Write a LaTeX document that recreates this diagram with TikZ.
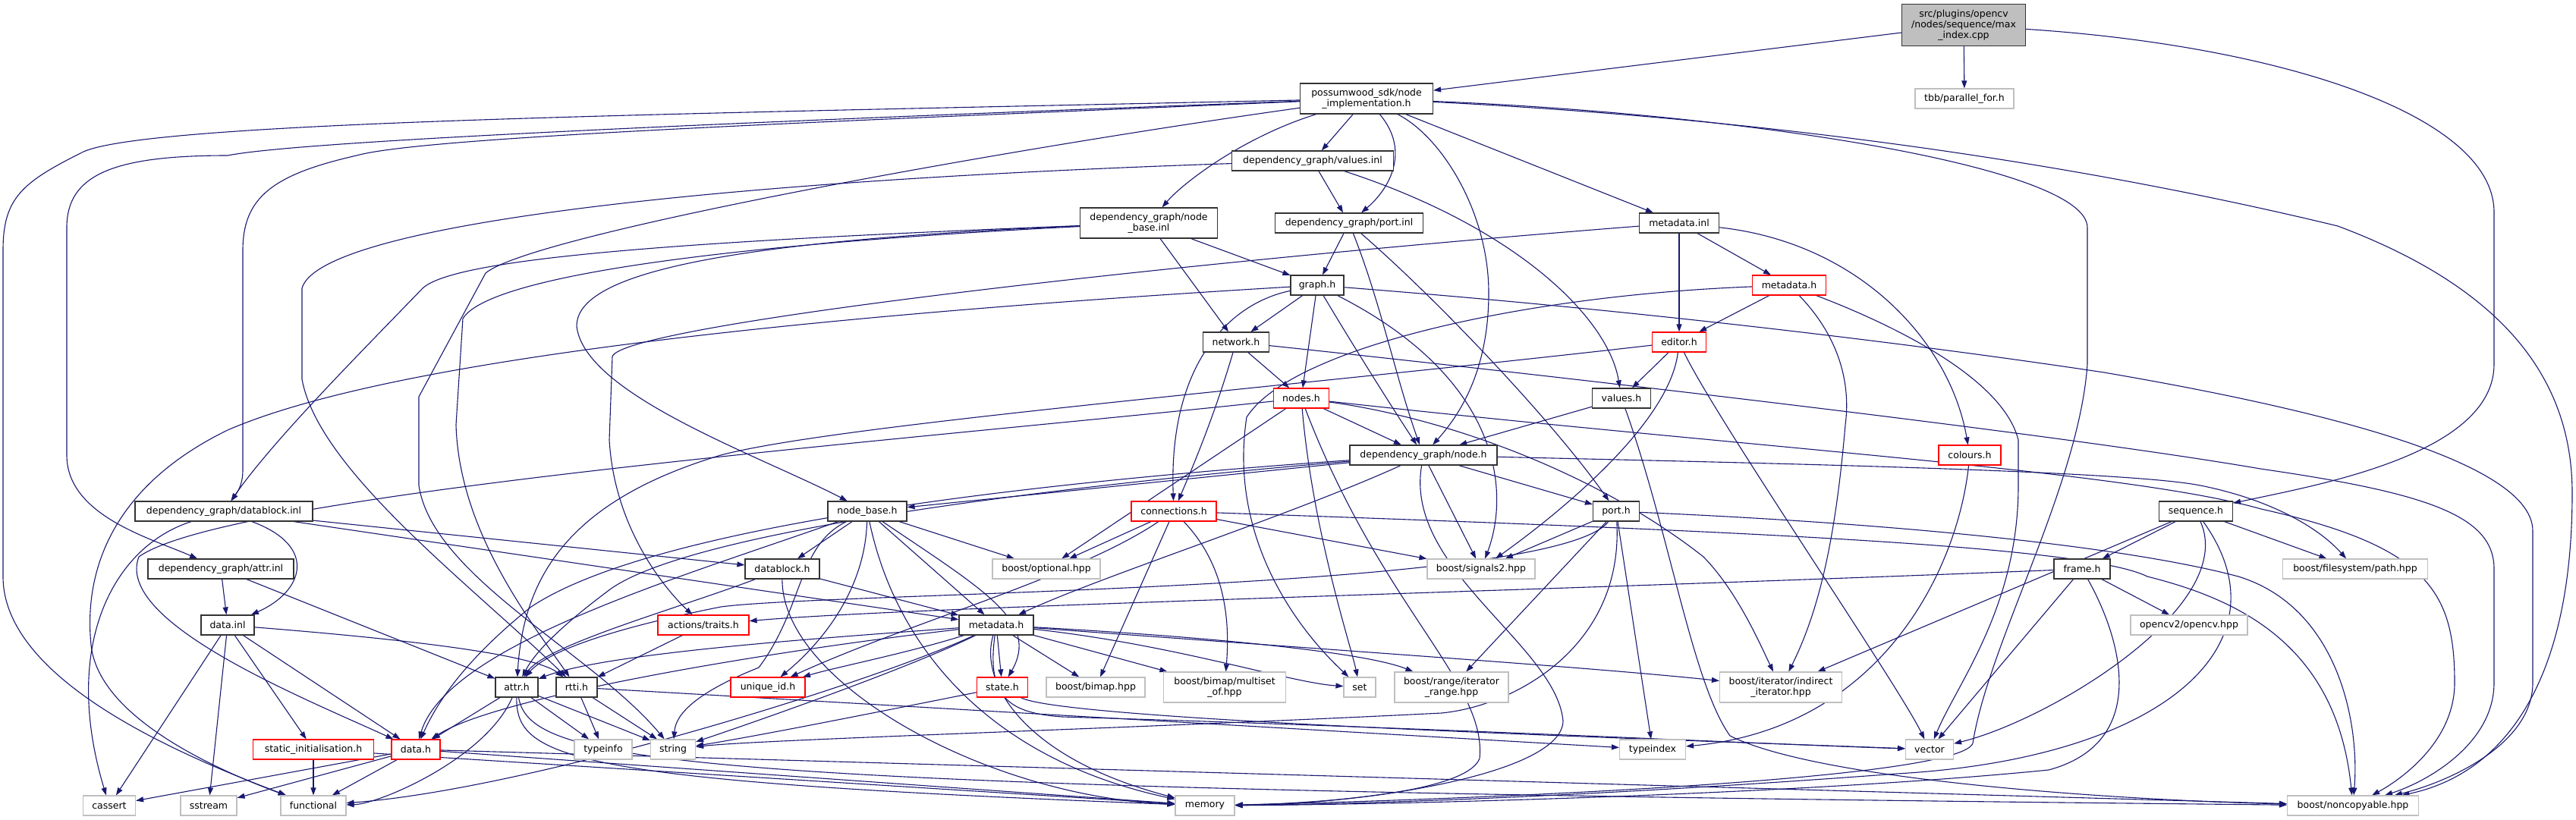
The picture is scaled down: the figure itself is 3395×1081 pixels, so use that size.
\documentclass[tikz,border=0pt]{standalone}
\usepackage{fontspec}
\setmainfont{DejaVu Sans}
\usetikzlibrary{arrows.meta}
\pgfdeclarelayer{bg}
\pgfsetlayers{bg,main}
\definecolor{edgec}{HTML}{191970}
\definecolor{extc}{HTML}{BFBFBF}
\begin{document}
\begin{tikzpicture}[x=1pt,y=-1pt,
  base/.style={rectangle,inner sep=0pt,fill=white,line width=1.2pt,align=center,font=\fontsize{12.5}{14}\selectfont},
  blk/.style={base,draw=black!80},
  redb/.style={base,draw=red},
  ext/.style={base,draw=extc},
  rootb/.style={base,draw=black!80,fill=extc},
  e/.style={draw=edgec,line width=1.1pt,-{Triangle[length=10pt,width=7pt]},fill=none}]
\useasboundingbox (0,0) rectangle (3395,1081);
\newcommand\bx[7]{\node[#1,minimum width=#5pt,minimum height=#6pt] (#2) at (#3,#4) {#7};}
% nodes
\bx{rootb}{root}{2588}{33}{163}{55}{src/plugins/opencv\\/nodes/sequence/max\\\_index.cpp}
\bx{ext}{tbb}{2589}{130}{130}{26}{tbb/parallel\_for.h}
\bx{blk}{impl}{1801}{130}{175}{40}{possumwood\_sdk/node\\\_implementation.h}
\bx{blk}{valinl}{1730}{212}{213}{26}{dependency\_graph/values.inl}
\bx{blk}{nbinl}{1514}{294}{181}{40}{dependency\_graph/node\\\_base.inl}
\bx{blk}{portinl}{1778}{294}{195}{26}{dependency\_graph/port.inl}
\bx{blk}{mdinl}{2213}{294}{105}{26}{metadata.inl}
\bx{blk}{graph}{1736}{376}{70}{26}{graph.h}
\bx{redb}{mdred}{2358}{376}{97}{26}{metadata.h}
\bx{blk}{network}{1629}{451}{87}{26}{network.h}
\bx{redb}{editor}{2213}{451}{71}{26}{editor.h}
\bx{redb}{nodes}{1715}{525}{73}{26}{nodes.h}
\bx{blk}{values}{2137}{525}{77}{26}{values.h}
\bx{blk}{node}{1876}{600}{194}{26}{dependency\_graph/node.h}
\bx{redb}{colours}{2596}{600}{82}{26}{colours.h}
\bx{blk}{dbinl}{295}{674}{234}{26}{dependency\_graph/datablock.inl}
\bx{blk}{nodebase}{1143}{674}{104}{26}{node\_base.h}
\bx{redb}{conn}{1547}{674}{112}{26}{connections.h}
\bx{blk}{port}{2130}{674}{61}{26}{port.h}
\bx{blk}{seq}{2894}{674}{97}{26}{sequence.h}
\bx{blk}{attrinl}{291}{750}{192}{26}{dependency\_graph/attr.inl}
\bx{blk}{dbh}{1031}{750}{98}{26}{datablock.h}
\bx{ext}{optional}{1379}{750}{142}{26}{boost/optional.hpp}
\bx{ext}{signals}{1952}{750}{142}{26}{boost/signals2.hpp}
\bx{blk}{frame}{2744}{750}{74}{26}{frame.h}
\bx{ext}{fs}{3104}{750}{191}{26}{boost/filesystem/path.hpp}
\bx{blk}{datainl}{300}{824}{70}{26}{data.inl}
\bx{redb}{traits}{927}{824}{120}{26}{actions/traits.h}
\bx{blk}{mdblk}{1313}{824}{98}{26}{metadata.h}
\bx{ext}{opencv}{2885}{824}{154}{26}{opencv2/opencv.hpp}
\bx{blk}{attrh}{681}{906}{56}{26}{attr.h}
\bx{blk}{rtti}{760}{906}{54}{26}{rtti.h}
\bx{redb}{uid}{1012}{906}{98}{26}{unique\_id.h}
\bx{redb}{state}{1321}{906}{67}{26}{state.h}
\bx{ext}{bimap}{1444}{906}{130}{26}{boost/bimap.hpp}
\bx{ext}{multiset}{1614}{906}{161}{40}{boost/bimap/multiset\\\_of.hpp}
\bx{ext}{set}{1792}{906}{42}{26}{set}
\bx{ext}{itrange}{1913}{906}{150}{40}{boost/range/iterator\\\_range.hpp}
\bx{ext}{indirect}{2347}{906}{161}{40}{boost/iterator/indirect\\\_iterator.hpp}
\bx{redb}{static}{413}{988}{159}{26}{static\_initialisation.h}
\bx{redb}{datah}{548}{988}{64}{26}{data.h}
\bx{ext}{typeinfo}{795}{988}{76}{26}{typeinfo}
\bx{ext}{string}{887}{988}{59}{26}{string}
\bx{ext}{typeindex}{2178}{988}{87}{26}{typeindex}
\bx{ext}{vector}{2543}{988}{63}{26}{vector}
\bx{ext}{cassert}{144}{1062}{69}{26}{cassert}
\bx{ext}{sstream}{275}{1062}{74}{26}{sstream}
\bx{ext}{functional}{413}{1062}{86}{26}{functional}
\bx{ext}{memory}{1588}{1062}{78}{26}{memory}
\bx{ext}{noncopy}{3101}{1062}{173}{26}{boost/noncopyable.hpp}
% edges
\begin{pgfonlayer}{bg}
\draw[e] (root) -- (impl);
\draw[e] (root) -- (tbb);
\draw[e] (root) .. controls (3000,60) and (3287,150) .. (3287,280) -- (3287,480) .. controls (3287,600) and (3050,640) .. (seq);
\draw[e] (impl) .. controls (900,150) and (200,160) .. (110,200) .. controls (30,240) and (4,260) .. (4,330) -- (4,760) .. controls (4,900) and (250,1000) .. (functional);
\draw[e] (impl) .. controls (1000,160) and (400,185) .. (300,205) .. controls (150,205) and (88,230) .. (88,300) -- (88,600) .. controls (88,680) and (200,710) .. (attrinl);
\draw[e] (impl) .. controls (1100,160) and (560,180) .. (470,205) .. controls (360,230) and (320,260) .. (320,330) -- (320,620) .. controls (320,640) and (312,650) .. (dbinl);
\draw[e] (impl) .. controls (1300,200) and (700,310) .. (640,360) -- (552,523) -- (552,640) .. controls (570,760) and (780,860) .. (string);
\draw[e] (impl) .. controls (2300,150) and (2751,220) .. (2751,300) -- (2751,480) .. controls (2740,640) and (2620,850) .. (2600,980) .. controls (2580,1030) and (1900,1055) .. (memory);
\draw[e] (impl) .. controls (2400,160) and (2800,230) .. (3081,298) .. controls (3300,380) and (3390,500) .. (3390,650) .. controls (3390,900) and (3300,1020) .. (noncopy);
\draw[e] (impl) .. controls (1640,180) and (1560,240) .. (nbinl);
\draw[e] (impl) -- (valinl);
\draw[e] (impl) .. controls (1860,200) and (1830,250) .. (portinl);
\draw[e] (impl) .. controls (1900,180) and (1962,280) .. (1962,386) .. controls (1962,480) and (1930,540) .. (node);
\draw[e] (impl) -- (mdinl);
\draw[e] (valinl) -- (portinl);
\draw[e] (valinl) .. controls (2000,300) and (2120,420) .. (values);
\draw[e] (valinl) .. controls (900,240) and (420,300) .. (398,380) -- (398,500) .. controls (420,620) and (620,770) .. (rtti);
\draw[e] (nbinl) -- (graph);
\draw[e] (nbinl) -- (network);
\draw[e] (nbinl) .. controls (900,320) and (760,370) .. (760,430) .. controls (770,520) and (1000,600) .. (nodebase);
\draw[e] (nbinl) .. controls (900,318) and (600,340) .. (557,380) .. controls (480,460) and (360,580) .. (dbinl);
\draw[e] (nbinl) .. controls (900,325) and (640,370) .. (610,420) -- (601,560) .. controls (605,700) and (700,820) .. (rtti);
\draw[e] (portinl) -- (graph);
\draw[e] (portinl) .. controls (1820,400) and (1840,500) .. (node);
\draw[e] (portinl) .. controls (1900,400) and (2050,560) .. (port);
\draw[e] (mdinl) -- (editor);
\draw[e] (mdinl) -- (mdred);
\draw[e] (mdinl) .. controls (2450,320) and (2570,450) .. (colours);
\draw[e] (mdinl) .. controls (1500,350) and (820,430) .. (807,470) -- (803,580) .. controls (810,700) and (880,780) .. (traits);
\draw[e] (graph) -- (network);
\draw[e] (graph) -- (nodes);
\draw[e] (graph) .. controls (1780,450) and (1830,530) .. (node);
\draw[e] (graph) .. controls (1620,400) and (1540,480) .. (conn);
\draw[e] (graph) .. controls (1000,420) and (500,480) .. (300,567) .. controls (150,640) and (110,750) .. (120,850) .. controls (130,950) and (300,1020) .. (functional);
\draw[e] (graph) .. controls (1980,500) and (1990,650) .. (signals);
\draw[e] (graph) .. controls (2300,420) and (2700,480) .. (2773,491) .. controls (3000,530) and (3338,600) .. (3338,700) -- (3338,900) .. controls (3338,980) and (3230,1030) .. (noncopy);
\draw[e] (mdred) -- (editor);
\draw[e] (mdred) .. controls (2000,390) and (1700,460) .. (1643,550) .. controls (1620,700) and (1700,820) .. (set);
\draw[e] (mdred) .. controls (2420,440) and (2440,500) .. (2432,560) .. controls (2420,700) and (2400,800) .. (indirect);
\draw[e] (mdred) .. controls (2500,430) and (2640,500) .. (2660,580) -- (2660,640) .. controls (2660,800) and (2580,900) .. (vector);
\draw[e] (network) -- (nodes);
\draw[e] (network) .. controls (1600,550) and (1570,620) .. (conn);
\draw[e] (network) .. controls (2000,490) and (2700,570) .. (2979,618) .. controls (3200,650) and (3287,680) .. (3287,750) -- (3287,900) .. controls (3287,980) and (3200,1030) .. (noncopy);
\draw[e] (editor) -- (values);
\draw[e] (editor) .. controls (1700,510) and (1100,560) .. (950,600) .. controls (750,660) and (690,760) .. (attrh);
\draw[e] (editor) .. controls (2200,560) and (2050,680) .. (signals);
\draw[e] (editor) .. controls (2260,550) and (2500,900) .. (vector);
\draw[e] (values) -- (node);
\draw[e] (values) .. controls (2200,700) and (2230,900) .. (2280,970) .. controls (2400,1030) and (2800,1055) .. (noncopy);
\draw[e] (nodes) -- (node);
\draw[e] (nodes) -- (optional);
\draw[e] (nodes) .. controls (1730,700) and (1780,850) .. (set);
\draw[e] (nodes) .. controls (1820,800) and (1960,900) .. (1950,1000) .. controls (1930,1050) and (1700,1060) .. (memory);
\draw[e] (nodes) .. controls (1200,580) and (300,650) .. (183,734) .. controls (150,820) and (400,920) .. (datah);
\draw[e] (nodes) .. controls (2300,590) and (2800,620) .. (2980,671) .. controls (3200,720) and (3235,780) .. (3235,900) .. controls (3235,980) and (3160,1030) .. (noncopy);
\draw[e] (nodes) .. controls (1900,550) and (2100,620) .. (2245,734) .. controls (2290,780) and (2320,850) .. (indirect);
\draw[e] (node) -- (nodebase);
\draw[e] (node) -- (port);
\draw[e] (node) -- (signals);
\draw[e] (node) .. controls (1850,750) and (2050,850) .. (2060,950) .. controls (2060,1020) and (1800,1060) .. (memory);
\draw[e] (node) .. controls (1700,680) and (1450,760) .. (mdblk);
\draw[e] (node) .. controls (1300,640) and (850,700) .. (700,800) .. controls (600,880) and (570,940) .. (datah);
\draw[e] (node) .. controls (1400,640) and (900,700) .. (800,780) .. controls (720,840) and (700,870) .. (attrh);
\draw[e] (node) .. controls (2300,610) and (2800,620) .. (2900,640) .. controls (3000,660) and (3060,700) .. (fs);
\draw[e] (colours) .. controls (2580,750) and (2480,960) .. (typeindex);
\draw[e] (dbinl) .. controls (420,720) and (400,780) .. (datainl);
\draw[e] (dbinl) -- (dbh);
\draw[e] (dbinl) -- (mdblk);
\draw[e] (dbinl) .. controls (150,720) and (80,850) .. (cassert);
\draw[e] (attrinl) -- (datainl);
\draw[e] (attrinl) -- (attrh);
\draw[e] (datainl) -- (cassert);
\draw[e] (datainl) -- (sstream);
\draw[e] (datainl) -- (static);
\draw[e] (datainl) -- (datah);
\draw[e] (datainl) .. controls (500,840) and (700,860) .. (rtti);
\draw[e] (static) -- (functional);
\draw[e] (static) -- (memory);
\draw[e] (datah) -- (cassert);
\draw[e] (datah) -- (sstream);
\draw[e] (datah) -- (functional);
\draw[e] (datah) -- (memory);
\draw[e] (datah) -- (noncopy);
\draw[e] (attrh) -- (datah);
\draw[e] (attrh) .. controls (640,1000) and (500,1060) .. (functional);
\draw[e] (attrh) -- (typeinfo);
\draw[e] (attrh) -- (string);
\draw[e] (attrh) .. controls (680,1000) and (750,1030) .. (memory);
\draw[e] (attrh) .. controls (700,1010) and (900,1040) .. (noncopy);
\draw[e] (rtti) -- (typeinfo);
\draw[e] (rtti) -- (string);
\draw[e] (rtti) -- (typeindex);
\draw[e] (traits) -- (rtti);
\draw[e] (nodebase) -- (dbh);
\draw[e] (nodebase) -- (mdblk);
\draw[e] (nodebase) -- (optional);
\draw[e] (nodebase) .. controls (1300,780) and (1370,820) .. (state);
\draw[e] (nodebase) .. controls (1180,850) and (1300,1000) .. (memory);
\draw[e] (nodebase) .. controls (1050,720) and (1060,800) .. (1000,880) .. controls (900,920) and (890,950) .. (string);
\draw[e] (nodebase) .. controls (1140,780) and (1080,850) .. (uid);
\draw[e] (nodebase) .. controls (900,760) and (590,850) .. (datah);
\draw[e] (conn) -- (optional);
\draw[e] (conn) -- (bimap);
\draw[e] (conn) .. controls (1620,750) and (1620,830) .. (multiset);
\draw[e] (conn) .. controls (1420,760) and (1200,820) .. (uid);
\draw[e] (conn) -- (signals);
\draw[e] (conn) .. controls (2300,700) and (2750,720) .. (2830,760) .. controls (2950,790) and (3080,850) .. (noncopy);
\draw[e] (port) -- (signals);
\draw[e] (port) .. controls (2050,780) and (1100,780) .. (950,800) .. controls (800,830) and (720,860) .. (attrh);
\draw[e] (port) .. controls (2140,850) and (2000,930) .. (1900,940) .. controls (1500,960) and (1000,975) .. (string);
\draw[e] (port) -- (typeindex);
\draw[e] (port) .. controls (2500,690) and (2800,720) .. (2950,760) .. controls (3080,800) and (3110,950) .. (noncopy);
\draw[e] (port) -- (itrange);
\draw[e] (seq) -- (frame);
\draw[e] (seq) -- (fs);
\draw[e] (seq) -- (indirect);
\draw[e] (seq) .. controls (2950,800) and (2700,950) .. (vector);
\draw[e] (seq) .. controls (3020,850) and (2850,1000) .. (2500,1020) .. controls (2100,1050) and (1800,1060) .. (memory);
\draw[e] (frame) .. controls (2000,780) and (1200,800) .. (traits);
\draw[e] (frame) -- (vector);
\draw[e] (frame) .. controls (2800,850) and (2830,980) .. (2700,1015) .. controls (2400,1045) and (1900,1060) .. (memory);
\draw[e] (frame) -- (opencv);
\draw[e] (mdblk) -- (state);
\draw[e] (mdblk) -- (bimap);
\draw[e] (mdblk) -- (multiset);
\draw[e] (mdblk) .. controls (1550,850) and (1700,900) .. (set);
\draw[e] (mdblk) .. controls (1600,840) and (1800,860) .. (itrange);
\draw[e] (mdblk) .. controls (1800,860) and (2100,880) .. (indirect);
\draw[e] (mdblk) .. controls (1300,920) and (1330,940) .. (1400,945) .. controls (1900,960) and (2300,980) .. (vector);
\draw[e] (mdblk) .. controls (1100,840) and (800,860) .. (attrh);
\draw[e] (mdblk) .. controls (1000,860) and (650,920) .. (datah);
\draw[e] (mdblk) .. controls (1200,880) and (1000,950) .. (string);
\draw[e] (mdblk) .. controls (1290,900) and (1350,1000) .. (memory);
\draw[e] (mdblk) .. controls (1150,900) and (700,1040) .. (functional);
\draw[e] (mdblk) .. controls (1200,860) and (1100,880) .. (uid);
\draw[e] (state) .. controls (1150,940) and (1000,970) .. (string);
\draw[e] (state) .. controls (1400,950) and (2200,975) .. (vector);
\draw[e] (dbh) .. controls (900,800) and (720,850) .. (attrh);
\draw[e] (dbh) .. controls (1030,900) and (1300,1050) .. (memory);
\draw[e] (dbh) -- (mdblk);
\end{pgfonlayer}
\end{tikzpicture}
\end{document}
